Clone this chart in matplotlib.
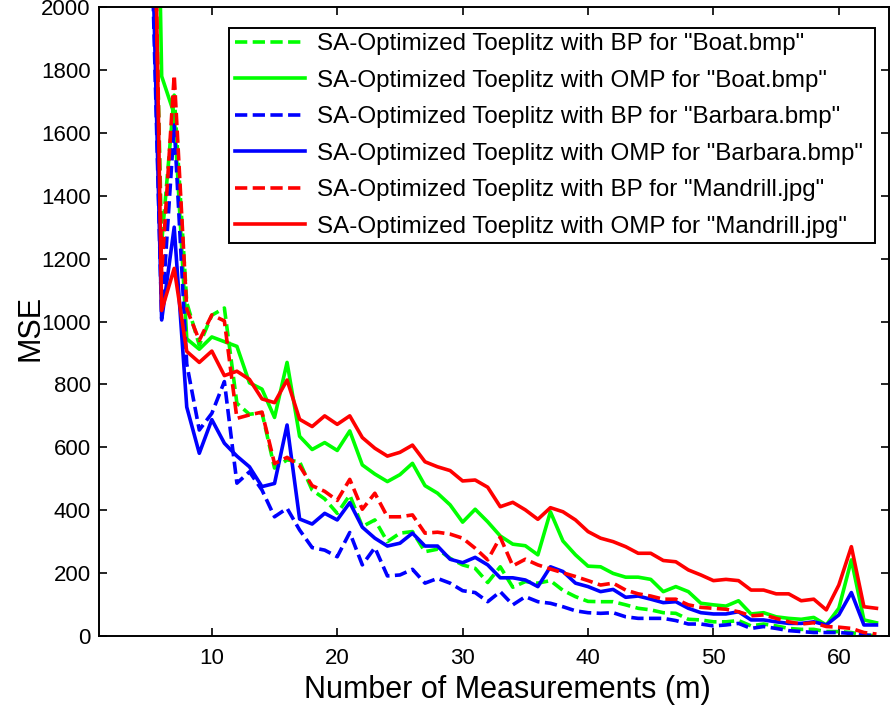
import matplotlib
matplotlib.use("Agg")
import matplotlib.pyplot as plt

plt.rcParams['font.family'] = ['Liberation Sans', 'DejaVu Sans']

# number of measurements m = 5 .. 63
m = list(range(5, 64))

boat_bp = [3000, 1250, 1720, 1060, 925, 1020, 1043, 740, 705, 710,
           534, 560, 554, 464, 436, 390, 448, 348, 369, 300,
           327, 332, 268, 276, 247, 226, 215, 170, 220, 155,
           173, 168, 176, 145, 125, 110, 109, 109, 99, 88,
           83, 74, 72, 53, 51, 45, 45, 49, 32, 38,
           32, 24, 21, 21, 14, 14, 11, 3, 1]
boat_omp = [4000, 1780, 1660, 945, 912, 951, 936, 921, 805, 785,
            695, 870, 635, 593, 615, 590, 652, 544, 515, 491,
            513, 549, 478, 454, 417, 362, 403, 363, 318, 292,
            287, 258, 395, 302, 258, 222, 220, 199, 187, 187,
            180, 141, 157, 141, 104, 99, 95, 112, 70, 74,
            61, 56, 53, 59, 35, 88, 242, 51, 42]
barbara_bp = [2500, 1010, 1625, 865, 655, 708, 809, 486, 522, 464,
              379, 406, 337, 281, 273, 252, 329, 226, 281, 191,
              194, 212, 168, 183, 168, 144, 138, 109, 141, 99,
              125, 109, 104, 93, 80, 74, 72, 74, 61, 56,
              56, 56, 49, 38, 38, 32, 35, 40, 24, 30,
              24, 17, 14, 11, 11, 11, 8, 3, 1]
barbara_omp = [2600, 1005, 1300, 728, 581, 688, 613, 572, 538, 475,
               485, 671, 372, 356, 390, 369, 424, 346, 311, 286,
               295, 327, 286, 286, 244, 233, 250, 226, 185, 185,
               178, 157, 220, 205, 168, 157, 141, 148, 123, 127,
               117, 106, 109, 88, 74, 70, 70, 77, 51, 51,
               45, 40, 40, 45, 35, 67, 138, 35, 35]
mandrill_bp = [3200, 1150, 1784, 1040, 940, 1021, 1002, 692, 703, 712,
               548, 568, 541, 478, 460, 431, 498, 403, 454, 379,
               379, 385, 327, 330, 324, 311, 279, 242, 314, 223,
               244, 226, 213, 201, 189, 176, 162, 168, 146, 134,
               127, 117, 117, 99, 91, 88, 85, 77, 64, 67,
               56, 45, 38, 42, 30, 28, 24, 11, 6]
mandrill_omp = [3400, 1035, 1169, 905, 870, 906, 828, 842, 816, 754,
                742, 814, 689, 666, 700, 673, 700, 631, 597, 572,
                584, 607, 554, 538, 526, 493, 496, 473, 411, 425,
                401, 371, 408, 395, 369, 332, 311, 300, 284, 263,
                263, 240, 236, 210, 194, 176, 180, 176, 146, 146,
                134, 134, 112, 117, 83, 162, 284, 93, 88]

labels = ['SA-Optimized Toeplitz with BP for "Boat.bmp"',
          'SA-Optimized Toeplitz with OMP for "Boat.bmp"',
          'SA-Optimized Toeplitz with BP for "Barbara.bmp"',
          'SA-Optimized Toeplitz with OMP for "Barbara.bmp"',
          'SA-Optimized Toeplitz with BP for "Mandrill.jpg"',
          'SA-Optimized Toeplitz with OMP for "Mandrill.jpg"']

fig = plt.figure(figsize=(8.94, 7.09), dpi=100)
ax = fig.add_axes([0.1107, 0.103, 0.8837, 0.887])

series = [(boat_bp, '#00ff00', '--'), (boat_omp, '#00ff00', '-'),
          (barbara_bp, '#0000ff', '--'), (barbara_omp, '#0000ff', '-'),
          (mandrill_bp, '#ff0000', '--'), (mandrill_omp, '#ff0000', '-')]

for (vals, col, ls), lab in zip(series, labels):
    # trailing space keeps the gap to the right edge of the legend box
    line, = ax.plot(m, vals, color=col, linestyle=ls, linewidth=2.6, label=lab + ' ')
    if ls == '--':
        line.set_dashes((3.4, 1.5))

ax.set_xlim(1, 64)
ax.set_ylim(0, 2000)
ax.set_xticks(range(10, 61, 10))
ax.set_yticks(range(0, 2001, 200))
ax.tick_params(direction='in', length=6, width=1.2, top=True, right=True,
               labelsize=16)
ax.tick_params(axis='x', pad=9)
ax.tick_params(axis='y', pad=6)
for sp in ax.spines.values():
    sp.set_linewidth(1.4)

ax.set_xlabel('Number of Measurements (m)', fontsize=22, labelpad=4)
ax.xaxis.label.set_x(0.517)
ax.set_ylabel('MSE', fontsize=22, labelpad=-3)
ax.yaxis.label.set_y(0.49)

leg = ax.legend(loc='upper right', bbox_to_anchor=(0.982, 0.967),
                borderaxespad=0, fontsize=17.4, handlelength=2.9,
                handletextpad=0.5, labelspacing=0.6, borderpad=0.22,
                fancybox=False, framealpha=1)
leg.get_frame().set_edgecolor('black')
leg.get_frame().set_linewidth(1.4)

fig.savefig('out.png', dpi=100)
